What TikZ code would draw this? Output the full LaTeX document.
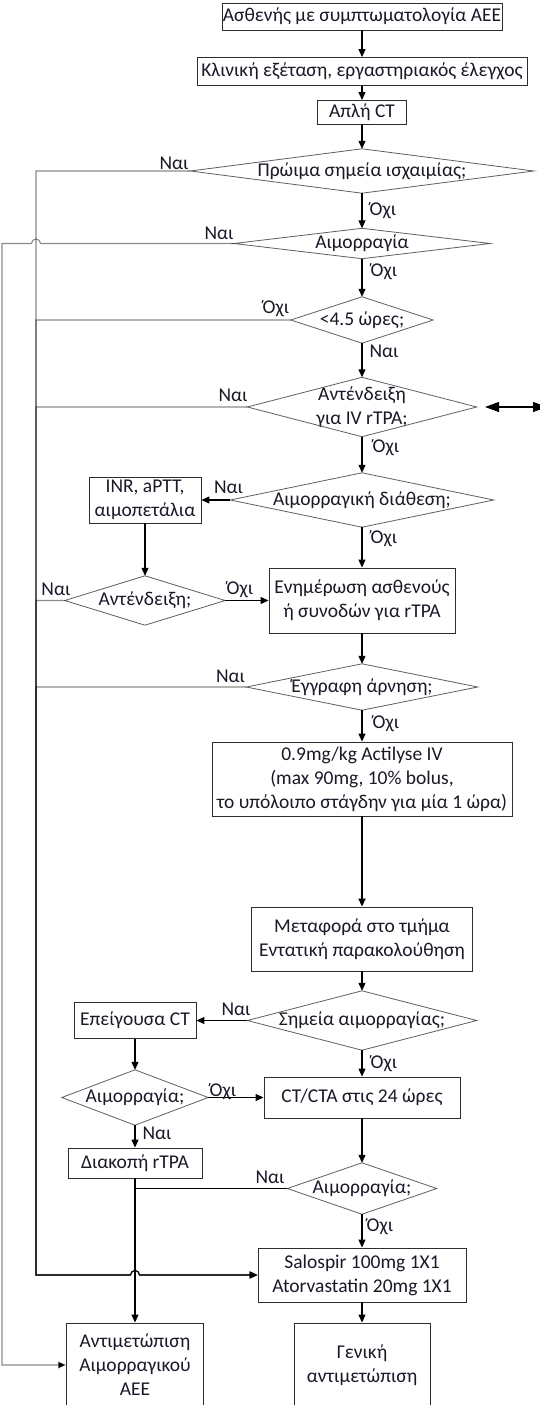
\documentclass[tikz,border=0pt]{standalone}
\usepackage{fontspec}
\setmainfont{Carlito}
\usetikzlibrary{arrows.meta}
\definecolor{txt}{RGB}{25,25,40}
\definecolor{boxc}{RGB}{45,45,45}
\definecolor{diac}{RGB}{95,95,95}
\newcommand\dianode[6]{%
  \node[dtext, minimum width=#4, minimum height=#5] (#1) at (#2,#3) {#6};
  \draw[dline] (#1.west) -- (#1.north) -- (#1.east) -- (#1.south) -- cycle;}
\begin{document}
\begin{tikzpicture}[x=1pt, y=-1pt,
  font=\fontsize{19.5}{24}\selectfont,
  box/.style={draw=boxc, line width=0.9pt, fill=white, inner sep=0pt, align=center, text=txt},
  dtext/.style={inner sep=0pt, align=center, text=txt},
  dline/.style={draw=diac, line width=0.8pt},
  lbl/.style={inner sep=0pt, anchor=base, text=txt},
  tip/.style={-{Triangle[length=8pt,width=7pt]}},
  arr/.style={draw=black, line width=1.1pt, tip},
  link/.style={draw=black, line width=1.1pt},
  branch/.style={draw=black, draw opacity=0.45, line width=1.1pt},
  bigtip/.style={{Triangle[length=14pt,width=10pt]}-{Triangle[length=14pt,width=10pt]}}
]
\useasboundingbox (0,0) rectangle (539,1405);
\fill[white] (0,0) rectangle (539,1405);

% main column
\node[box, minimum width=280, minimum height=27] (b1) at (362,16.5) {Ασθενής με συμπτωματολογία ΑΕΕ};
\node[box, minimum width=330, minimum height=28] (b2) at (362,71.5) {Κλινική εξέταση, εργαστηριακός έλεγχος};
\node[box, minimum width=89, minimum height=24] (b3) at (362,112.5) {Απλή CT};
\dianode{d1}{362}{171}{343}{44}{Πρώιμα σημεία ισχαιμίας;}
\dianode{d2}{362}{243.5}{256}{30}{Αιμορραγία}
\dianode{d3}{362}{320}{142}{46}{<4.5 ώρες;}
\dianode{d4}{362}{407}{229}{59}{Αντένδειξη\\για IV rTPA;}
\dianode{d5}{362}{500}{263}{54}{Αιμορραγική διάθεση;}
\node[box, minimum width=112, minimum height=46] (inr) at (145,500) {INR, aPTT,\\αιμοπετάλια};
\node[box, minimum width=186, minimum height=65] (b6) at (362,600.5) {Ενημέρωση ασθενούς\\ή συνοδών για rTPA};
\dianode{d6}{145}{600.5}{160}{49}{Αντένδειξη;}
\dianode{d7}{362}{687}{231}{46}{Έγγραφη άρνηση;}
\node[box, minimum width=300, minimum height=74] (b8) at (362,779) {0.9mg/kg Actilyse IV\\(max 90mg, 10\% bolus,\\το υπόλοιπο στάγδην για μία 1 ώρα)};
\node[box, minimum width=221, minimum height=64] (b9) at (362,939) {Μεταφορά στο τμήμα\\Εντατική παρακολούθηση};
\dianode{d10}{362}{1020.5}{229}{59}{Σημεία αιμορραγίας;}
\node[box, minimum width=122, minimum height=36] (b11) at (135,1020.5) {Επείγουσα CT};
\node[box, minimum width=196, minimum height=41] (b12) at (362,1097.5) {CT/CTA στις 24 ώρες};
\dianode{d13}{135}{1097.5}{146}{55}{Αιμορραγία;}
\node[box, minimum width=134, minimum height=30] (b14) at (135,1163) {Διακοπή rTPA};
\dianode{d15}{362}{1188.5}{149}{51}{Αιμορραγία;}
\node[box, minimum width=208, minimum height=54] (b17) at (362,1275) {Salospir 100mg 1X1\\Atorvastatin 20mg 1X1};
\node[box, minimum width=137, minimum height=84] (b16) at (135,1365) {Αντιμετώπιση\\Αιμορραγικού\\ΑΕΕ};
\node[box, minimum width=136, minimum height=84] (b18) at (362,1365) {Γενική\\αντιμετώπιση};

% main arrows
\draw[arr] (b1.south) -- (b2.north);
\draw[arr] (b2.south) -- (b3.north);
\draw[arr] (b3.south) -- (d1.north);
\draw[arr] (d1.south) -- (d2.north);
\draw[arr] (d2.south) -- (d3.north);
\draw[arr] (d3.south) -- (d4.north);
\draw[arr] (d4.south) -- (d5.north);
\draw[arr] (d5.south) -- (b6.north);
\draw[arr] (b6.south) -- (d7.north);
\draw[arr] (d7.south) -- (b8.north);
\draw[arr, line width=1.8pt] (b8.south) -- (b9.north);
\draw[arr] (b9.south) -- (d10.north);
\draw[arr] (d10.south) -- (b12.north);
\draw[arr] (b12.south) -- (d15.north);
\draw[arr] (d15.south) -- (b17.north);
\draw[arr] (b17.south) -- (b18.north);

% side arrows
\draw[arr] (d5.west) -- (inr.east);
\draw[arr] (inr.south) -- (d6.north);
\draw[arr] (d6.east) -- (b6.west);
\draw[arr] (d10.west) -- (b11.east);
\draw[arr] (b11.south) -- (d13.north);
\draw[arr] (d13.east) -- (b12.west);
\draw[arr] (d13.south) -- (b14.north);
\draw[arr] (b14.south) -- (b16.north);
\draw[link] (d15.west) -- (b14.south |- d15.west);

% bus lines
\coordinate (jx) at (36,0);
\coordinate (ox) at (2,0);
\coordinate (hop) at (b14.south |- b17.west);
\foreach \d in {d1,d3,d4,d6,d7}{
  \draw[branch, tip] (\d.west) -- (jx |- \d.west) -- (jx |- b17.west) -- ([xshift=-4.5pt]hop)
    arc[start angle=180, end angle=0, radius=4.5pt] -- (b17.west);
}
\coordinate (hop2) at (jx |- d2.west);
\draw[branch, tip] (d2.west) -- ([xshift=4.5pt]hop2)
  arc[start angle=0, end angle=180, radius=4.5pt] -- (ox |- d2.west) -- (ox |- b16.west) -- (b16.west);

% double arrow
\coordinate (da1) at (485,407);
\coordinate (da2) at (547,407);
\draw[bigtip, line width=1.1pt] (da1) -- (da2);

% labels
\node[lbl] (n1) at (174,169) {Ναι};
\node[lbl] (o1) at (383,215) {Όχι};
\node[lbl] (n2) at (219,239) {Ναι};
\node[lbl] (o2) at (384,276) {Όχι};
\node[lbl] (o3) at (276,313) {Όχι};
\node[lbl] (n3) at (384,357) {Ναι};
\node[lbl] (n4) at (233,401) {Ναι};
\node[lbl] (o4) at (386,452) {Όχι};
\node[lbl] (n5) at (228.5,493) {Ναι};
\node[lbl] (o5) at (384,543) {Όχι};
\node[lbl] (n6) at (56,595) {Ναι};
\node[lbl] (o6) at (240,594) {Όχι};
\node[lbl] (n7) at (230.5,682) {Ναι};
\node[lbl] (o7) at (386,728) {Όχι};
\node[lbl] (n10) at (236,1015) {Ναι};
\node[lbl] (o10) at (384,1068) {Όχι};
\node[lbl] (o13) at (223,1096) {Όχι};
\node[lbl] (n13) at (157,1139) {Ναι};
\node[lbl] (n15) at (270,1183) {Ναι};
\node[lbl] (o15) at (380,1231) {Όχι};
\end{tikzpicture}
\end{document}
